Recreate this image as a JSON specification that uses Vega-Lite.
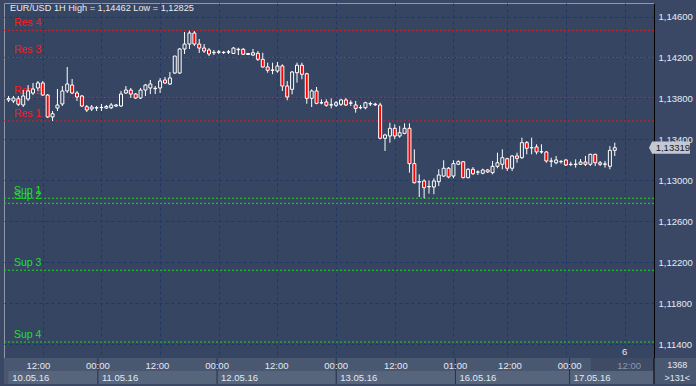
{
"$schema": "https://vega.github.io/schema/vega-lite/v6.json",
"background": "#3a4866",
"padding": {"left": 3, "top": 2, "right": 0, "bottom": 3},
"spacing": 0,
"bounds": "flush",
"config": {"view": {"stroke": null}, "font": "Liberation Sans"},
"datasets": {
"candles": [
{"k":0,"o":1.13785,"h":1.13824,"l":1.13765,"c":1.13799},
{"k":1,"o":1.13775,"h":1.13824,"l":1.13755,"c":1.13804},
{"k":2,"o":1.13797,"h":1.13824,"l":1.13726,"c":1.13743},
{"k":3,"o":1.13736,"h":1.13882,"l":1.13716,"c":1.13824},
{"k":4,"o":1.13794,"h":1.13931,"l":1.13775,"c":1.13873},
{"k":5,"o":1.13853,"h":1.13951,"l":1.13833,"c":1.13892},
{"k":6,"o":1.13902,"h":1.13970,"l":1.13873,"c":1.13951},
{"k":7,"o":1.13951,"h":1.13970,"l":1.13824,"c":1.13833},
{"k":8,"o":1.13833,"h":1.13843,"l":1.13609,"c":1.13619},
{"k":9,"o":1.13619,"h":1.13677,"l":1.13580,"c":1.13651},
{"k":10,"o":1.13706,"h":1.13892,"l":1.13677,"c":1.13736},
{"k":11,"o":1.13746,"h":1.13921,"l":1.13726,"c":1.13873},
{"k":12,"o":1.13873,"h":1.14107,"l":1.13853,"c":1.13941},
{"k":13,"o":1.13931,"h":1.13990,"l":1.13843,"c":1.13853},
{"k":14,"o":1.13853,"h":1.13873,"l":1.13775,"c":1.13814},
{"k":15,"o":1.13824,"h":1.13833,"l":1.13716,"c":1.13726},
{"k":16,"o":1.13719,"h":1.13736,"l":1.13667,"c":1.13687},
{"k":17,"o":1.13697,"h":1.13736,"l":1.13677,"c":1.13716},
{"k":18,"o":1.13706,"h":1.13726,"l":1.13677,"c":1.13710},
{"k":19,"o":1.13710,"h":1.13746,"l":1.13677,"c":1.13712},
{"k":20,"o":1.13706,"h":1.13736,"l":1.13697,"c":1.13721},
{"k":21,"o":1.13709,"h":1.13755,"l":1.13697,"c":1.13736},
{"k":22,"o":1.13726,"h":1.13746,"l":1.13716,"c":1.13736},
{"k":23,"o":1.13726,"h":1.13873,"l":1.13716,"c":1.13843},
{"k":24,"o":1.13853,"h":1.13921,"l":1.13843,"c":1.13882},
{"k":25,"o":1.13882,"h":1.13902,"l":1.13804,"c":1.13843},
{"k":26,"o":1.13843,"h":1.13853,"l":1.13794,"c":1.13804},
{"k":27,"o":1.13804,"h":1.13902,"l":1.13794,"c":1.13882},
{"k":28,"o":1.13882,"h":1.13941,"l":1.13824,"c":1.13931},
{"k":29,"o":1.13902,"h":1.13980,"l":1.13843,"c":1.13941},
{"k":30,"o":1.13899,"h":1.13921,"l":1.13843,"c":1.13895},
{"k":31,"o":1.13902,"h":1.14000,"l":1.13853,"c":1.13970},
{"k":32,"o":1.13980,"h":1.14009,"l":1.13941,"c":1.13951},
{"k":33,"o":1.13941,"h":1.14058,"l":1.13931,"c":1.14000},
{"k":34,"o":1.14048,"h":1.14214,"l":1.14039,"c":1.14214},
{"k":35,"o":1.14048,"h":1.14292,"l":1.14039,"c":1.14283},
{"k":36,"o":1.14283,"h":1.14449,"l":1.14234,"c":1.14331},
{"k":37,"o":1.14331,"h":1.14462,"l":1.14283,"c":1.14439},
{"k":38,"o":1.14439,"h":1.14458,"l":1.14312,"c":1.14331},
{"k":39,"o":1.14331,"h":1.14380,"l":1.14244,"c":1.14292},
{"k":40,"o":1.14292,"h":1.14331,"l":1.14244,"c":1.14263},
{"k":41,"o":1.14273,"h":1.14292,"l":1.14214,"c":1.14234},
{"k":42,"o":1.14250,"h":1.14273,"l":1.14224,"c":1.14246},
{"k":43,"o":1.14251,"h":1.14273,"l":1.14234,"c":1.14255},
{"k":44,"o":1.14248,"h":1.14263,"l":1.14234,"c":1.14250},
{"k":45,"o":1.14252,"h":1.14273,"l":1.14234,"c":1.14255},
{"k":46,"o":1.14239,"h":1.14302,"l":1.14234,"c":1.14292},
{"k":47,"o":1.14276,"h":1.14295,"l":1.14224,"c":1.14280},
{"k":48,"o":1.14280,"h":1.14292,"l":1.14224,"c":1.14231},
{"k":49,"o":1.14229,"h":1.14244,"l":1.14224,"c":1.14239},
{"k":50,"o":1.14224,"h":1.14283,"l":1.14214,"c":1.14246},
{"k":51,"o":1.14241,"h":1.14263,"l":1.14166,"c":1.14182},
{"k":52,"o":1.14182,"h":1.14246,"l":1.14100,"c":1.14107},
{"k":53,"o":1.14107,"h":1.14149,"l":1.14051,"c":1.14075},
{"k":54,"o":1.14078,"h":1.14149,"l":1.14036,"c":1.14075},
{"k":55,"o":1.14068,"h":1.14156,"l":1.14051,"c":1.14117},
{"k":56,"o":1.14117,"h":1.14133,"l":1.13873,"c":1.13921},
{"k":57,"o":1.13921,"h":1.13970,"l":1.13782,"c":1.13814},
{"k":58,"o":1.13889,"h":1.14068,"l":1.13840,"c":1.14058},
{"k":59,"o":1.14051,"h":1.14149,"l":1.13954,"c":1.14124},
{"k":60,"o":1.14124,"h":1.14149,"l":1.13987,"c":1.14036},
{"k":61,"o":1.14041,"h":1.14051,"l":1.13748,"c":1.13801},
{"k":62,"o":1.13801,"h":1.13889,"l":1.13716,"c":1.13873},
{"k":63,"o":1.13873,"h":1.13912,"l":1.13743,"c":1.13752},
{"k":64,"o":1.13756,"h":1.13791,"l":1.13743,"c":1.13758},
{"k":65,"o":1.13765,"h":1.13791,"l":1.13719,"c":1.13733},
{"k":66,"o":1.13736,"h":1.13801,"l":1.13703,"c":1.13738},
{"k":67,"o":1.13733,"h":1.13775,"l":1.13716,"c":1.13758},
{"k":68,"o":1.13743,"h":1.13797,"l":1.13726,"c":1.13785},
{"k":69,"o":1.13785,"h":1.13804,"l":1.13726,"c":1.13736},
{"k":70,"o":1.13757,"h":1.13782,"l":1.13726,"c":1.13753},
{"k":71,"o":1.13736,"h":1.13775,"l":1.13661,"c":1.13703},
{"k":72,"o":1.13711,"h":1.13736,"l":1.13694,"c":1.13709},
{"k":73,"o":1.13709,"h":1.13768,"l":1.13694,"c":1.13758},
{"k":74,"o":1.13750,"h":1.13768,"l":1.13726,"c":1.13746},
{"k":75,"o":1.13744,"h":1.13758,"l":1.13726,"c":1.13738},
{"k":76,"o":1.13736,"h":1.13758,"l":1.13401,"c":1.13411},
{"k":77,"o":1.13411,"h":1.13455,"l":1.13287,"c":1.13443},
{"k":78,"o":1.13433,"h":1.13563,"l":1.13368,"c":1.13508},
{"k":79,"o":1.13508,"h":1.13547,"l":1.13401,"c":1.13433},
{"k":80,"o":1.13433,"h":1.13531,"l":1.13416,"c":1.13465},
{"k":81,"o":1.13459,"h":1.13557,"l":1.13450,"c":1.13508},
{"k":82,"o":1.13508,"h":1.13557,"l":1.13075,"c":1.13163},
{"k":83,"o":1.13163,"h":1.13303,"l":1.12969,"c":1.12977},
{"k":84,"o":1.12987,"h":1.13059,"l":1.12837,"c":1.12984},
{"k":85,"o":1.12994,"h":1.13010,"l":1.12825,"c":1.12928},
{"k":86,"o":1.12937,"h":1.13000,"l":1.12870,"c":1.12940},
{"k":87,"o":1.12935,"h":1.13020,"l":1.12864,"c":1.12994},
{"k":88,"o":1.12987,"h":1.13108,"l":1.12945,"c":1.13052},
{"k":89,"o":1.13042,"h":1.13196,"l":1.13033,"c":1.13118},
{"k":90,"o":1.13118,"h":1.13130,"l":1.13020,"c":1.13033},
{"k":91,"o":1.13042,"h":1.13196,"l":1.13020,"c":1.13163},
{"k":92,"o":1.13157,"h":1.13196,"l":1.13150,"c":1.13182},
{"k":93,"o":1.13182,"h":1.13185,"l":1.13020,"c":1.13026},
{"k":94,"o":1.13026,"h":1.13118,"l":1.13020,"c":1.13108},
{"k":95,"o":1.13108,"h":1.13130,"l":1.13052,"c":1.13065},
{"k":96,"o":1.13080,"h":1.13098,"l":1.13052,"c":1.13082},
{"k":97,"o":1.13069,"h":1.13114,"l":1.13059,"c":1.13101},
{"k":98,"o":1.13101,"h":1.13111,"l":1.13072,"c":1.13082},
{"k":99,"o":1.13075,"h":1.13189,"l":1.13059,"c":1.13137},
{"k":100,"o":1.13137,"h":1.13270,"l":1.13118,"c":1.13172},
{"k":101,"o":1.13157,"h":1.13303,"l":1.13108,"c":1.13221},
{"k":102,"o":1.13211,"h":1.13221,"l":1.13091,"c":1.13118},
{"k":103,"o":1.13118,"h":1.13247,"l":1.13091,"c":1.13238},
{"k":104,"o":1.13238,"h":1.13270,"l":1.13172,"c":1.13215},
{"k":105,"o":1.13221,"h":1.13417,"l":1.13210,"c":1.13368},
{"k":106,"o":1.13368,"h":1.13384,"l":1.13254,"c":1.13313},
{"k":107,"o":1.13317,"h":1.13417,"l":1.13254,"c":1.13320},
{"k":108,"o":1.13326,"h":1.13352,"l":1.13254,"c":1.13277},
{"k":109,"o":1.13277,"h":1.13352,"l":1.13261,"c":1.13280},
{"k":110,"o":1.13277,"h":1.13287,"l":1.13172,"c":1.13189},
{"k":111,"o":1.13189,"h":1.13221,"l":1.13130,"c":1.13186},
{"k":112,"o":1.13172,"h":1.13238,"l":1.13157,"c":1.13199},
{"k":113,"o":1.13182,"h":1.13199,"l":1.13163,"c":1.13184},
{"k":114,"o":1.13199,"h":1.13205,"l":1.13140,"c":1.13150},
{"k":115,"o":1.13157,"h":1.13182,"l":1.13140,"c":1.13155},
{"k":116,"o":1.13155,"h":1.13205,"l":1.13124,"c":1.13158},
{"k":117,"o":1.13157,"h":1.13208,"l":1.13150,"c":1.13179},
{"k":118,"o":1.13179,"h":1.13238,"l":1.13140,"c":1.13157},
{"k":119,"o":1.13157,"h":1.13260,"l":1.13140,"c":1.13254},
{"k":120,"o":1.13254,"h":1.13260,"l":1.13140,"c":1.13172},
{"k":121,"o":1.13172,"h":1.13189,"l":1.13140,"c":1.13157},
{"k":122,"o":1.13157,"h":1.13189,"l":1.13124,"c":1.13160},
{"k":123,"o":1.13137,"h":1.13335,"l":1.13108,"c":1.13293},
{"k":124,"o":1.13293,"h":1.13368,"l":1.13238,"c":1.13319}
],
"levels": [
{"name":"Res 4","kind":"Res","value":1.14465},
{"name":"Res 3","kind":"Res","value":1.14200},
{"name":"Res 2","kind":"Res","value":1.13807},
{"name":"Res 1","kind":"Res","value":1.13580},
{"name":"Sup 1","kind":"Sup","value":1.12825},
{"name":"Sup 2","kind":"Sup","value":1.12776},
{"name":"Sup 3","kind":"Sup","value":1.12122},
{"name":"Sup 4","kind":"Sup","value":1.11421}
],
"info": [
{"title":"EUR/USD 1H High = 1,14462 Low = 1,12825","last":1.13319,"lastLabel":"1,13319"}
],
"times": [
{"k":7,"label":"12:00","row":"time","state":"past"},
{"k":19,"label":"00:00","row":"time","state":"past"},
{"k":31,"label":"12:00","row":"time","state":"past"},
{"k":43,"label":"00:00","row":"time","state":"past"},
{"k":55,"label":"12:00","row":"time","state":"past"},
{"k":67,"label":"00:00","row":"time","state":"past"},
{"k":79,"label":"12:00","row":"time","state":"past"},
{"k":91,"label":"01:00","row":"time","state":"past"},
{"k":102,"label":"12:00","row":"time","state":"past"},
{"k":114,"label":"00:00","row":"time","state":"past"},
{"k":126,"label":"12:00","row":"time","state":"future"}
],
"boxes": [
{"start":0.96,"end":19,"row":"date","date":"10.05.16","kind":"day"},
{"start":19,"end":43,"row":"date","date":"11.05.16","kind":"day"},
{"start":43,"end":67,"row":"date","date":"12.05.16","kind":"day"},
{"start":67,"end":91,"row":"date","date":"13.05.16","kind":"day"},
{"start":91,"end":114,"row":"date","date":"16.05.16","kind":"day"},
{"start":114,"end":131,"row":"date","date":"17.05.16","kind":"day"},
{"start":118.3,"end":131,"row":"time","date":"","kind":"future"}
],
"seps": [
{"k":19,"kind":"day"},{"k":43,"kind":"day"},{"k":67,"kind":"day"},{"k":91,"kind":"day"},{"k":114,"kind":"day"},{"k":131,"kind":"edge"}
],
"corner": [
{"k":135.7,"row":"time","label":"1368"},
{"k":135.7,"row":"date","label":">131<"}
]
},
"vconcat": [
{
"width": 650,
"height": 355,
"view": {"fill": "#364561", "stroke": "#8f99a9", "strokeWidth": 1},
"layer": [
{
"data": {"name": "levels"},
"mark": {"type": "rule", "strokeWidth": 1, "strokeDash": [2, 2]},
"encoding": {
"y": {"field": "value", "type": "quantitative",
"scale": {"domain": [1.11265, 1.14732], "nice": false, "zero": false},
"axis": {"orient": "right", "title": null,
"values": [1.114,1.116,1.118,1.12,1.122,1.124,1.126,1.128,1.13,1.132,1.134,1.136,1.138,1.14,1.142,1.144,1.146],
"labelExpr": "replace(format(datum.value, '.5f'), '.', ',')",
"tickSize": 0, "labelPadding": 4, "labelColor": "#e6ebf3", "labelFontSize": 9.5,
"labelFont": "Liberation Sans", "labelOverlap": false, "labelBound": false, "labelFlush": false,
"domainColor": "#000000", "domainWidth": 1,
"grid": true, "gridColor": "#1f3868", "gridDash": [3, 3], "gridWidth": 1, "minExtent": 40}},
"color": {"condition": {"test": "datum.kind == 'Res'", "value": "#e41c1c"}, "value": "#1fd81f"}
}
},
{
"data": {"name": "levels"},
"mark": {"type": "text", "align": "left", "baseline": "alphabetic", "dy": -4, "fontSize": 10.5, "font": "Liberation Sans"},
"encoding": {
"x": {"datum": 1.1, "type": "quantitative"},
"y": {"field": "value", "type": "quantitative"},
"text": {"field": "name"},
"color": {"condition": {"test": "datum.kind == 'Res'", "value": "#ff1a1a"}, "value": "#1fe01f"}
}
},
{
"data": {"name": "candles"},
"mark": {"type": "rule", "color": "#ffffff", "strokeWidth": 1},
"encoding": {
"x": {"field": "k", "type": "quantitative",
"scale": {"domain": [0.09, 131.0], "nice": false, "zero": false},
"axis": {"values": [7,19,31,43,55,67,79,91,102,114,126], "labels": false, "ticks": false, "title": null,
"domain": true, "domainColor": "#000000", "domainWidth": 1,
"grid": true, "gridColor": "#1f3868", "gridDash": [3, 3], "gridWidth": 1, "minExtent": 0, "maxExtent": 0}},
"y": {"field": "l", "type": "quantitative"},
"y2": {"field": "h"}
}
},
{
"data": {"name": "candles"},
"mark": {"type": "bar", "size": 3, "stroke": "#ffffff", "strokeWidth": 1},
"encoding": {
"x": {"field": "k", "type": "quantitative"},
"y": {"field": "o", "type": "quantitative"},
"y2": {"field": "c"},
"fill": {"condition": {"test": "datum.o > datum.c", "value": "#ff0000"}, "value": "#364561"}
}
},
{
"data": {"name": "info"},
"mark": {"type": "point", "filled": true, "shape": "M0,0 L0.15,-0.29 L1.95,-0.29 L1.95,0.29 L0.15,0.29 Z", "size": 1764, "color": "#c4c8d0", "opacity": 1, "strokeWidth": 0, "clip": false},
"encoding": {
"x": {"datum": 131.0, "type": "quantitative"},
"y": {"field": "last", "type": "quantitative"}
}
},
{
"data": {"name": "info"},
"mark": {"type": "text", "align": "left", "baseline": "middle", "dx": 4, "fontSize": 9.5, "color": "#101a2c", "clip": false},
"encoding": {
"x": {"datum": 131.55, "type": "quantitative"},
"y": {"field": "last", "type": "quantitative"},
"text": {"field": "lastLabel"}
}
},
{
"data": {"name": "info"},
"mark": {"type": "text", "align": "left", "baseline": "middle", "fontSize": 9.2, "color": "#e8ecf4"},
"encoding": {
"x": {"datum": 0.3, "type": "quantitative"},
"y": {"datum": 1.14685, "type": "quantitative"},
"text": {"field": "title"}
}
},
{
"data": {"name": "info"},
"mark": {"type": "text", "align": "center", "baseline": "middle", "fontSize": 9.5, "color": "#e8ecf4"},
"encoding": {
"x": {"datum": 126, "type": "quantitative"},
"y": {"datum": 1.1132, "type": "quantitative"},
"text": {"value": "6"}
}
}
]
},
{
"width": 693,
"height": 26,
"view": {"fill": "#4a5770", "stroke": null},
"layer": [
{
"data": {"name": "boxes"},
"mark": {"type": "bar"},
"encoding": {
"x": {"field": "start", "type": "quantitative", "scale": {"domain": [0.09, 139.66], "nice": false, "zero": false}, "axis": null},
"x2": {"field": "end"},
"y": {"field": "row", "type": "nominal", "scale": {"domain": ["time", "date"], "paddingInner": 0, "paddingOuter": 0}, "axis": null},
"fill": {"condition": {"test": "datum.kind == 'future'", "value": "#3f4b64"}, "value": "#56647c"}
}
},
{
"data": {"name": "seps"},
"mark": {"type": "rule", "strokeWidth": 1},
"encoding": {
"x": {"field": "k", "type": "quantitative"},
"color": {"condition": {"test": "datum.kind == 'edge'", "value": "#000000"}, "value": "#26314a"}
}
},
{
"data": {"name": "times"},
"mark": {"type": "text", "fontSize": 9.5, "dy": 1, "baseline": "middle"},
"encoding": {
"x": {"field": "k", "type": "quantitative"},
"y": {"field": "row", "type": "nominal"},
"text": {"field": "label"},
"color": {"condition": {"test": "datum.state == 'future'", "value": "#8d97aa"}, "value": "#e3e9f3"}
}
},
{
"data": {"name": "boxes"},
"mark": {"type": "text", "align": "left", "dx": 4, "fontSize": 9.5, "baseline": "middle", "color": "#e3e9f3"},
"encoding": {
"x": {"field": "start", "type": "quantitative"},
"y": {"field": "row", "type": "nominal"},
"text": {"field": "date"}
}
},
{
"data": {"name": "corner"},
"mark": {"type": "text", "fontSize": 9, "baseline": "middle", "color": "#e3e9f3"},
"encoding": {
"x": {"field": "k", "type": "quantitative"},
"y": {"field": "row", "type": "nominal"},
"text": {"field": "label"}
}
}
]
}
]
}
